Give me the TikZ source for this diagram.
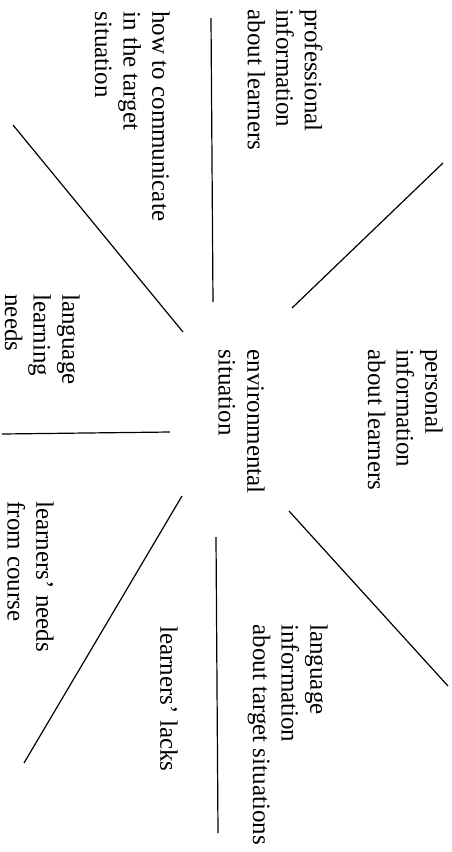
\documentclass[tikz,border=0pt]{standalone}
\usepackage{fontspec}
\setmainfont{Liberation Serif}
\usepackage{tikz}

\begin{document}
\begin{tikzpicture}[x=0.5pt,y=-0.5pt,
  lbl/.style={rotate=-90,anchor=north west,align=left,inner sep=0pt,font=\fontsize{12.5}{14.3}\selectfont},
  sep/.style={line width=0.6pt}]
\useasboundingbox (0,0) rectangle (451,852);
% labels, read from top to bottom
\node[lbl] (prof) at (323,9) {professional\\information\\about learners};
\node[lbl] (comm) at (170,11) {how to communicate\\in the target\\situation};
\node[lbl] (pers) at (443,349) {personal\\information\\about learners};
\node[lbl] (env) at (265,349) {environmental\\situation};
\node[lbl] (llneeds) at (80,294) {language\\learning\\needs};
\node[lbl] (course) at (54,501) {learners’ needs\\from course};
\node[lbl] (lacks) at (178,626) {learners’ lacks};
\node[lbl] (lang) at (328,624) {language\\information\\about target situations};
% dividing strokes
\coordinate (a1) at (211,18);  \coordinate (a2) at (213,302);
\coordinate (b1) at (443,163); \coordinate (b2) at (292,308);
\coordinate (c1) at (13,125);  \coordinate (c2) at (183,332);
\coordinate (d1) at (2,434);   \coordinate (d2) at (170,432);
\coordinate (e1) at (182,496); \coordinate (e2) at (24,763);
\coordinate (f1) at (216,537); \coordinate (f2) at (218,833);
\coordinate (g1) at (289,511); \coordinate (g2) at (448,686);
\draw[sep] (a1) -- (a2);
\draw[sep] (b1) -- (b2);
\draw[sep] (c1) -- (c2);
\draw[sep] (d1) -- (d2);
\draw[sep] (e1) -- (e2);
\draw[sep] (f1) -- (f2);
\draw[sep] (g1) -- (g2);
\end{tikzpicture}
\end{document}
